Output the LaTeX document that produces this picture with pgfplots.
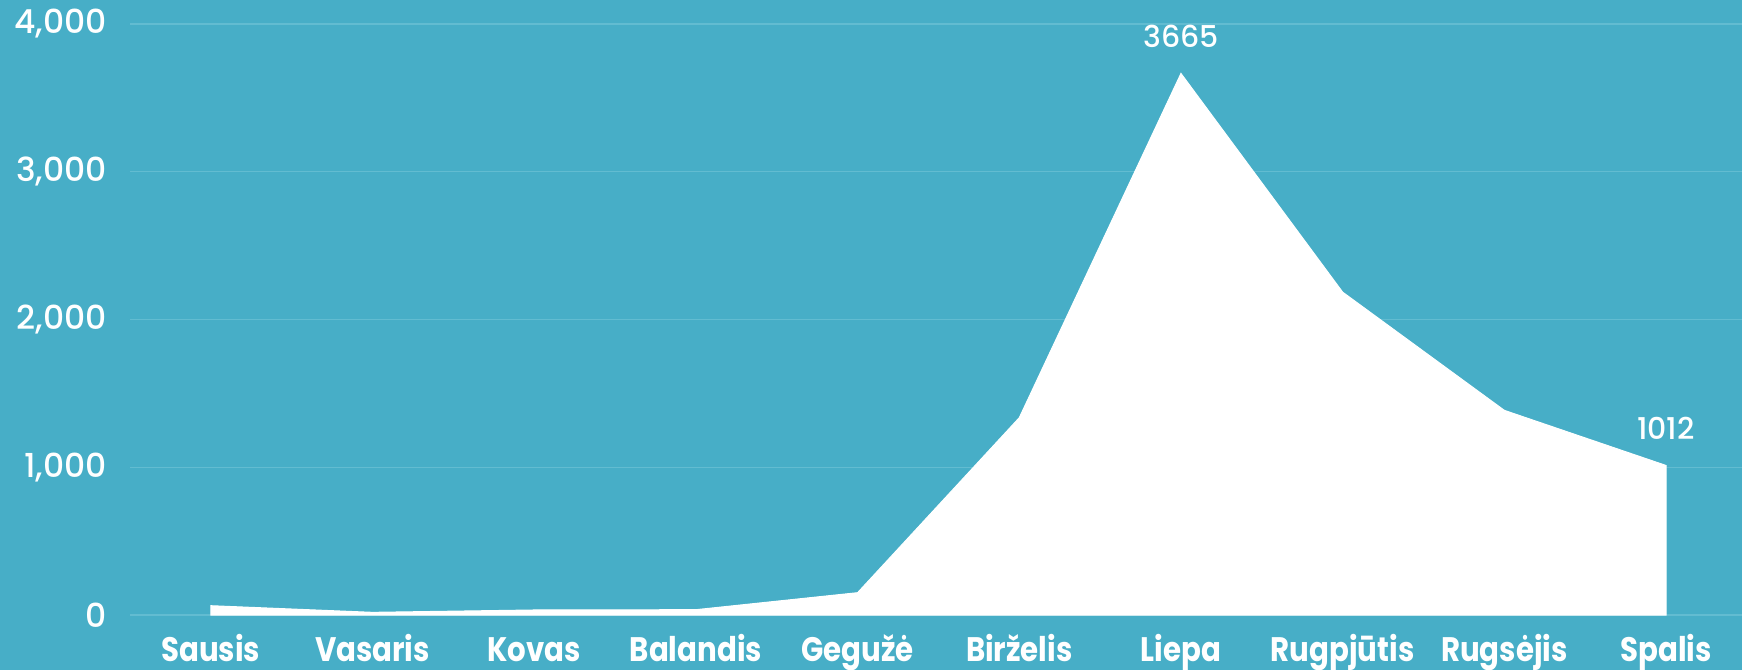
\documentclass[border=0pt]{standalone}
\usepackage{pgfplots}
\pgfplotsset{compat=1.18}
\usepackage{fontspec}
\setmainfont{Poppins}[UprightFont={* Medium}, BoldFont={* Bold}]
\newfontfamily\xlab{Poppins}[FakeStretch=0.86, UprightFont={* Bold}]
\definecolor{bg}{HTML}{47AEC7}
\definecolor{gridc}{HTML}{62BCD1}
\begin{document}
\begin{tikzpicture}[x=1pt,y=1pt]
\path[fill=bg, use as bounding box] (-65,-27.5) rectangle (806,307.5);
\begin{axis}[
  at={(0,0)}, anchor=south west,
  scale only axis, width=806pt, height=307.5pt,
  xmin=-0.5, xmax=9.47, ymin=0, ymax=4162,
  axis line style={draw=none}, tick style={draw=none},
  ytick={0,1000,2000,3000,4000},
  ymajorgrids, major grid style={gridc, line width=0.7pt},
  xtick={0,1,2,3,4,5,6,7,8,9},
  xticklabels={Sausis,Vasaris,Kovas,Balandis,Gegužė,Birželis,Liepa,Rugpjūtis,Rugsėjis,Spalis},
  /pgf/number format/assume math mode=true,
  yticklabel style={font=\fontsize{16.5}{18}\selectfont, text=white, inner sep=0pt, anchor=east, xshift=-11.5pt},
  xticklabel style={font=\xlab\fontsize{17}{18}\selectfont, text=white, inner sep=0pt, anchor=base, yshift=-23pt},
]
\addplot[fill=white, draw=white, line width=0.5pt] coordinates {
  (0,63) (1,18) (2,34) (3,36) (4,151) (5,1335) (6,3665) (7,2185) (8,1385) (9,1012)
} \closedcycle;
\node[font=\fontsize{15}{16}\selectfont, text=white, anchor=base, yshift=13pt] at (axis cs:6,3665) {3665};
\node[font=\fontsize{15}{16}\selectfont, text=white, anchor=base, yshift=13pt] at (axis cs:9,1012) {1012};
\end{axis}
\end{tikzpicture}
\end{document}
